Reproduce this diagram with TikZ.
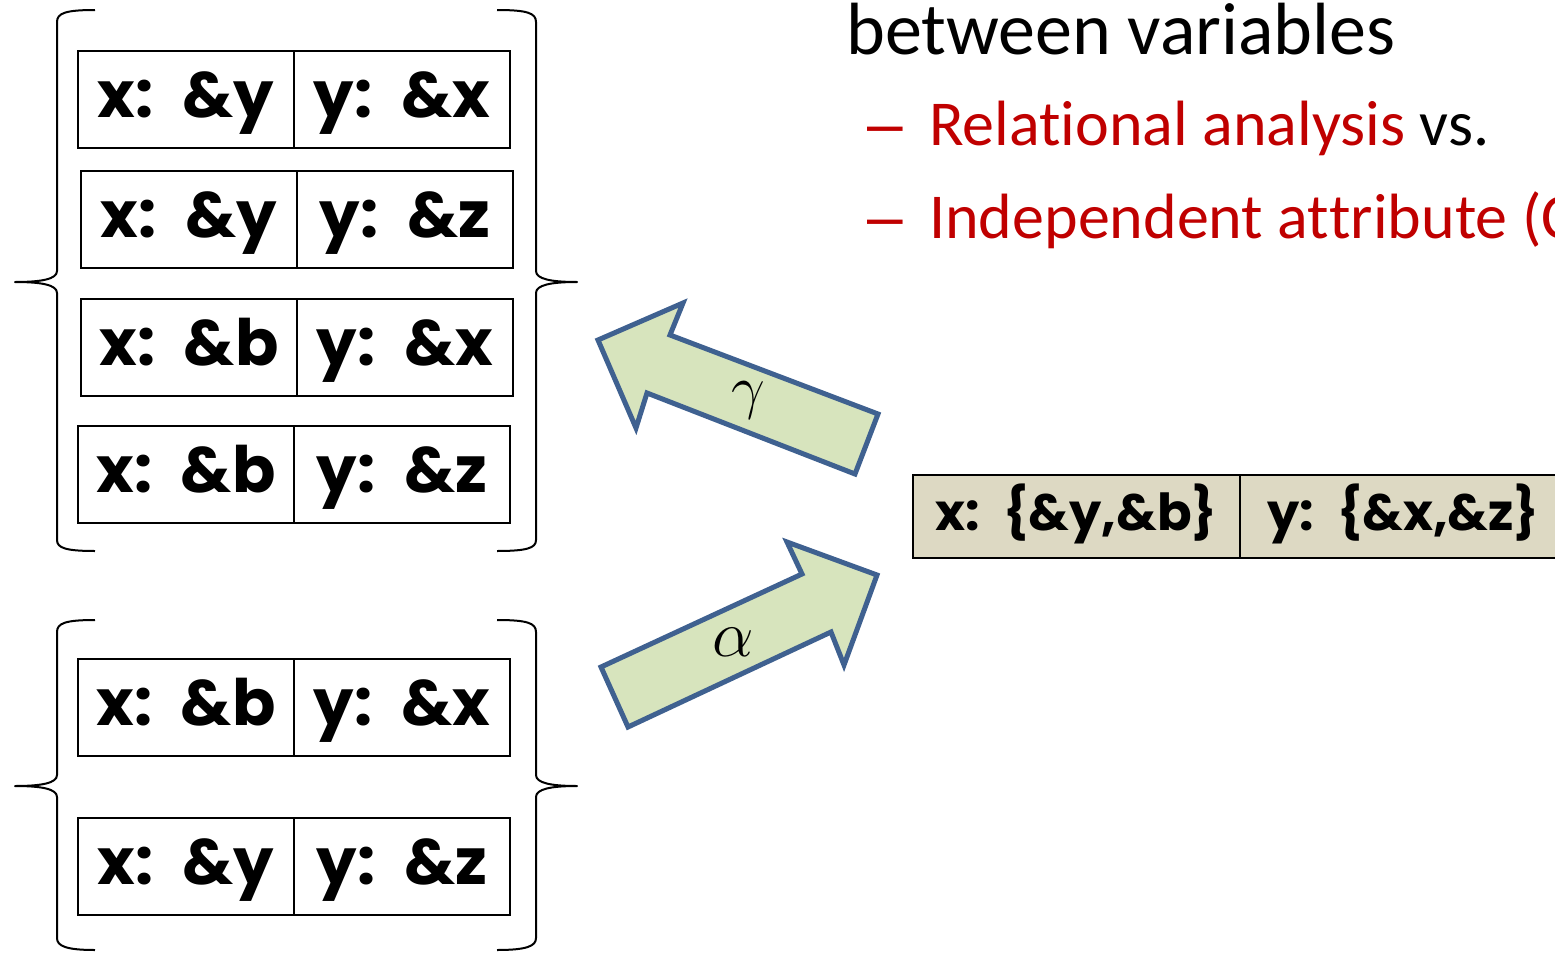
\documentclass[tikz,border=0pt]{standalone}
\usepackage{fix-cm}
\usepackage{fontspec}
\setmainfont{Carlito}[Ligatures=NoCommon]
\newfontfamily\hand{Poppins}
\newfontfamily\dashfont{Liberation Sans}
\definecolor{arrowfill}{HTML}{D7E4BD}
\definecolor{arrowline}{HTML}{3F6190}
\definecolor{boxfill}{HTML}{DDD9C3}
\definecolor{redtxt}{HTML}{C00000}
\begin{document}
\begin{tikzpicture}[x=1pt,y=-1pt,
  cell/.style={draw, line width=2pt, minimum height=97pt, minimum width=216pt, inner sep=0pt,
    text height=44pt, text depth=8pt,
    anchor=north west, font=\hand\bfseries\fontsize{64}{64}\selectfont},
  setcell/.style={cell, fill=boxfill, minimum height=83pt, minimum width=327pt,
    text height=36pt, text depth=8pt,
    font=\hand\bfseries\fontsize{51}{51}\selectfont},
  brace/.style={line width=2pt, line join=round},
  blockarrow/.style={fill=arrowfill, draw=arrowline, line width=5pt, line join=miter},
  greek/.style={inner sep=0pt},
  txt/.style={anchor=base west, inner sep=0pt},
  dashtxt/.style={txt, text=redtxt, font=\dashfont\fontsize{64}{64}\selectfont},
]
\useasboundingbox (0,0) rectangle (1555,953);
\clip (0,0) rectangle (1555,953);

% top group of cells
\node[cell] (r1x) at (77,50) {x:\, \&y};
\node[cell] (r1y) at (293,50) {y:\, \&x};
\node[cell] (r2x) at (80,170) {x:\, \&y};
\node[cell] (r2y) at (296,170) {y:\, \&z};
\node[cell] (r3x) at (80,298) {x:\, \&b};
\node[cell] (r3y) at (296,298) {y:\, \&x};
\node[cell] (r4x) at (77,425) {x:\, \&b};
\node[cell] (r4y) at (293,425) {y:\, \&z};

% bottom group of cells
\node[cell] (r5x) at (77,658) {x:\, \&b};
\node[cell] (r5y) at (293,658) {y:\, \&x};
\node[cell] (r6x) at (77,817) {x:\, \&y};
\node[cell] (r6y) at (293,817) {y:\, \&z};

% braces top group
\draw[brace] (95,10) .. controls (66,10) and (57,13) .. (57,22) -- (57,271)
  .. controls (57,279) and (42,282) .. (15,282) .. controls (42,282) and (57,285) .. (57,293)
  -- (57,540) .. controls (57,548) and (66,551) .. (95,551);
\draw[brace] (497,10) .. controls (527,10) and (536,13) .. (536,22) -- (536,271)
  .. controls (536,279) and (551,282) .. (577,282) .. controls (551,282) and (536,285) .. (536,293)
  -- (536,540) .. controls (536,548) and (527,551) .. (497,551);

% braces bottom group
\draw[brace] (95,620) .. controls (66,620) and (57,623) .. (57,632) -- (57,775)
  .. controls (57,783) and (42,786) .. (15,786) .. controls (42,786) and (57,789) .. (57,797)
  -- (57,938) .. controls (57,946) and (66,950) .. (95,950);
\draw[brace] (497,620) .. controls (527,620) and (536,623) .. (536,632) -- (536,775)
  .. controls (536,783) and (551,786) .. (577,786) .. controls (551,786) and (536,789) .. (536,797)
  -- (536,938) .. controls (536,946) and (527,950) .. (497,950);

% block arrows
\draw[blockarrow] (598,340) -- (683,303) -- (670,335) -- (878,414) -- (855,474)
  -- (647,393) -- (636,428) -- cycle;
\node[greek, font=\fontsize{60}{60}\selectfont] (gam) at (748,400) {$\gamma$};
\draw[blockarrow] (601,667) -- (802,574) -- (787,542) -- (877,575) -- (844,665)
  -- (831,632) -- (628,727) -- cycle;
\node[greek, font=\fontsize{66}{66}\selectfont] (alp) at (733,642) {$\alpha$};

% set cells
\node[setcell] (sx) at (912,474) {x:\, \{\&y,\&b\}};
\node[setcell] (sy) at (1239,474) {y:\, \{\&x,\&z\}};

% text
\node[txt, font=\fontsize{74}{74}\selectfont] (t1) at (846,54) {between variables};
\node[dashtxt] (d1) at (867,145) {\textendash};
\node[txt, font=\fontsize{64}{64}\selectfont] (t2) at (929,145) {\textcolor{redtxt}{Relat\kern0pt ional analysis} vs.};
\node[dashtxt] (d2) at (867,238) {\textendash};
\node[txt, font=\fontsize{64}{64}\selectfont, text=redtxt] (t3) at (929,238) {Independent at\kern0pt t\kern0pt ribute (C};
\end{tikzpicture}
\end{document}
